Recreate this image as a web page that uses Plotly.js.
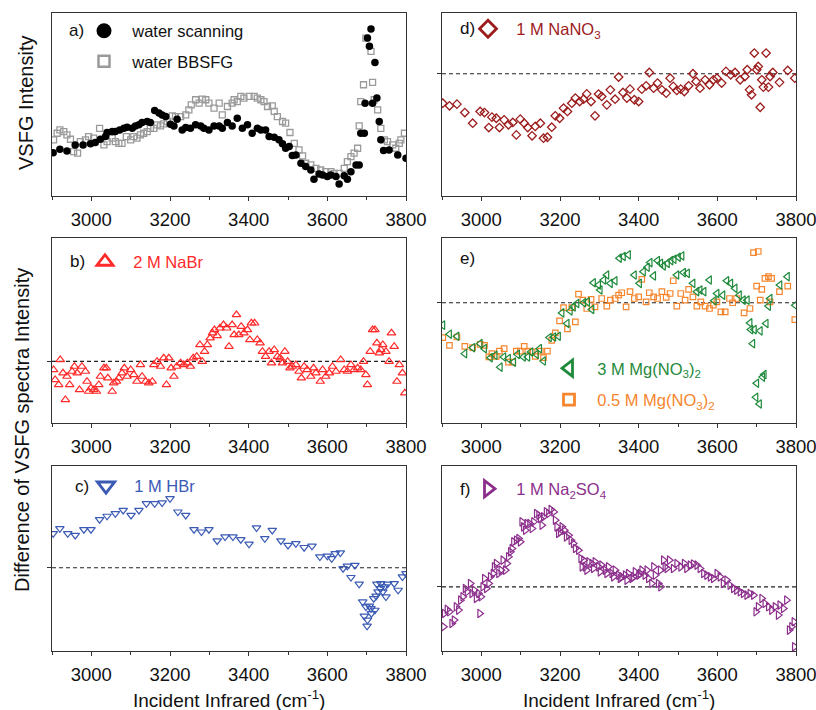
<!DOCTYPE html>
<html><head><meta charset="utf-8">
<script src="https://cdn.plot.ly/plotly-3.0.1.min.js"></script>
<style>html,body{margin:0;padding:0;background:#fff}#chart{width:816px;height:710px}</style>
</head><body><div id="chart"></div>
<script>
// ---------- data (wavenumber in cm^-1, intensity in arbitrary units 0-100) ----------
const aScanX = [2903,2920,2938,2959,2979,2998,3010,3023,3036,3040,3053,3061,3072,3083,3091,3104,3112,3121,3129,3142,3150,3161,3172,3180,3189,3201,3210,3218,3231,3240,3252,3265,3278,3286,3299,3312,3325,3333,3346,3358,3371,3384,3397,3409,3422,3431,3443,3452,3465,3477,3486,3494,3503,3511,3520,3533,3545,3558,3566,3579,3588,3600,3609,3622,3630,3643,3651,3660,3673,3681,3685,3694,3696,3702,3707,3711,3715,3721,3726,3732,3736,3743,3757,3779,3800];
const aScanY = [23.7,25.5,24.6,27.9,27.9,28.5,29.2,31.0,32.5,34.7,35.2,35.2,36.1,37.0,37.6,37.0,38.3,38.9,40.2,40.7,40.2,46.7,45.3,44.3,43.4,39.2,38.3,42.0,36.1,37.4,37.0,38.9,38.3,37.0,36.1,38.3,38.3,37.0,40.2,38.3,42.5,37.0,38.9,34.3,37.0,36.1,36.1,32.5,32.1,30.7,28.5,26.1,27.0,22.1,22.4,17.9,16.1,14.2,9.1,12.0,11.5,10.6,11.5,10.6,6.6,11.0,9.1,13.3,17.0,17.0,34.3,34.3,50.7,86.3,81.8,91.3,50.7,73.0,53.5,40.7,30.7,24.8,25.2,22.4,20.6];

const aBbX = [2904,2913,2920,2930,2938,2947,2955,2965,2972,2985,2993,3006,3021,3032,3040,3053,3061,3070,3078,3089,3100,3108,3116,3125,3133,3142,3150,3159,3167,3176,3184,3193,3206,3214,3227,3240,3248,3254,3265,3274,3282,3291,3299,3312,3325,3333,3346,3358,3363,3371,3380,3388,3401,3414,3422,3431,3439,3448,3460,3465,3473,3486,3494,3505,3516,3528,3537,3545,3558,3571,3583,3596,3609,3617,3630,3643,3651,3660,3668,3677,3681,3685,3692,3698,3711,3715,3719,3728,3736,3745,3753,3766,3774,3783,3787,3796];
const aBbY = [30.7,34.3,36.1,35.2,33.4,31.0,24.3,23.4,29.7,30.7,32.5,31.6,37.0,27.9,29.7,31.6,29.7,28.8,28.8,32.5,30.7,32.5,31.6,33.4,34.3,35.2,37.0,37.0,38.9,38.3,39.4,40.7,43.8,43.4,43.4,44.3,47.1,49.8,52.6,50.7,52.9,52.6,50.7,48.0,50.7,44.3,48.9,50.7,52.6,51.6,54.4,53.5,54.4,54.4,53.5,52.6,51.6,48.9,49.3,46.2,43.4,40.7,39.8,34.7,28.8,25.2,21.9,17.9,17.0,15.1,14.2,13.3,13.3,12.4,12.4,15.1,18.8,21.5,23.4,26.1,38.3,51.6,60.8,86.3,79.0,62.1,52.6,47.1,37.0,30.7,29.7,27.9,26.1,28.8,30.7,34.3];

const bX = [2904,2908,2917,2921,2928,2934,2938,2945,2951,2957,2964,2970,2976,2985,2989,2993,2999,3006,3013,3019,3023,3032,3038,3042,3053,3057,3064,3070,3078,3084,3091,3100,3108,3116,3125,3129,3138,3146,3155,3159,3167,3176,3184,3191,3197,3203,3210,3217,3227,3235,3244,3252,3259,3268,3276,3282,3288,3295,3302,3308,3313,3320,3327,3336,3344,3350,3358,3363,3369,3375,3381,3388,3397,3403,3407,3415,3422,3429,3435,3443,3452,3458,3465,3473,3480,3486,3492,3499,3505,3511,3520,3528,3534,3541,3549,3558,3565,3571,3582,3588,3596,3605,3613,3622,3634,3643,3651,3660,3668,3677,3685,3692,3698,3702,3709,3715,3721,3726,3732,3736,3741,3749,3757,3763,3770,3777,3783,3791,3797];
const bY = [28.8,23.4,20.7,34.2,27.0,12.6,25.2,20.7,27.9,30.6,27.0,18.0,30.6,27.9,22.5,17.1,18.9,18.0,17.1,20.7,25.2,29.7,29.7,24.3,17.1,21.6,22.5,24.3,27.0,29.7,25.2,28.8,26.1,22.5,31.5,25.2,22.5,21.6,22.5,31.5,33.3,30.6,35.1,20.7,35.1,29.7,25.2,30.6,32.4,31.5,32.4,30.6,35.1,36.0,42.3,33.3,38.7,42.3,45.9,48.6,50.4,47.2,51.3,53.1,51.3,41.4,53.1,47.7,58.5,47.7,52.2,48.6,50.4,45.0,54.0,54.0,45.0,43.2,38.7,36.0,38.7,32.4,39.6,36.0,35.1,32.4,38.7,33.3,29.7,30.6,31.5,27.9,24.3,30.6,28.8,25.2,29.7,27.0,22.5,28.8,25.2,27.0,30.6,27.9,34.2,28.8,27.9,31.5,28.8,29.7,28.8,33.3,26.1,20.7,38.7,50.4,50.4,43.2,37.8,39.6,42.3,38.7,33.3,48.6,41.4,22.5,31.5,27.0,16.2];

const cX = [2903,2920,2940,2959,2981,2999,3021,3040,3061,3081,3101,3121,3140,3161,3180,3200,3220,3240,3261,3280,3299,3320,3340,3360,3380,3401,3420,3441,3460,3482,3500,3520,3541,3561,3581,3600,3611,3620,3633,3640,3651,3660,3670,3681,3690,3694,3698,3701,3702,3707,3711,3712,3718,3721,3724,3726,3729,3735,3736,3741,3745,3749,3753,3770,3780,3791,3800];
const cY = [63.5,66.2,63.5,62.6,65.7,65.7,71.1,72.9,74.3,76.1,73.4,76.1,79.7,79.7,80.1,82.4,75.2,73.4,65.7,64.4,65.7,59.6,61.7,61.7,60.3,57.8,66.6,60.8,65.3,59.6,57.2,58.1,56.0,56.7,50.9,51.3,50.0,52.7,53.1,44.6,45.9,39.8,46.4,36.2,26.6,18.9,23.9,13.5,16.7,24.3,23.0,20.3,28.4,22.1,29.7,36.2,32.0,33.8,36.5,32.0,34.7,29.3,36.2,36.5,32.9,40.1,41.9];

const dX = [2902,2919,2938,2958,2978,2997,3008,3019,3027,3038,3046,3058,3069,3080,3089,3099,3109,3118,3129,3137,3150,3158,3168,3179,3188,3199,3209,3219,3230,3239,3250,3260,3268,3279,3289,3298,3306,3319,3328,3340,3349,3360,3370,3378,3389,3400,3408,3419,3427,3438,3448,3459,3470,3480,3488,3497,3507,3516,3527,3538,3546,3556,3569,3580,3590,3599,3611,3622,3634,3645,3658,3670,3676,3682,3687,3694,3700,3704,3709,3713,3717,3724,3730,3734,3741,3758,3779,3797];
const dY = [50.7,49.3,50.2,45.6,39.8,46.2,45.6,37.4,43.1,42.5,37.4,41.6,38.9,40.2,33.4,42.0,39.8,37.4,32.9,38.0,39.8,31.6,32.1,37.6,43.8,42.5,48.0,46.2,50.7,53.5,51.6,52.9,55.8,51.6,43.8,55.7,54.4,49.8,58.0,52.9,65.0,56.6,53.5,58.4,52.6,51.6,58.4,60.2,67.5,58.9,61.7,58.0,56.2,64.4,59.9,57.7,58.4,57.1,60.2,66.8,62.6,58.9,63.5,60.8,63.5,64.4,61.7,68.1,66.2,67.5,63.5,65.3,69.0,58.0,55.3,78.1,69.0,70.8,48.5,63.5,59.5,78.1,59.5,65.3,67.5,62.1,68.6,64.4];

const eMg3X = [2902,2919,2938,2958,2978,2997,3008,3023,3035,3048,3057,3069,3082,3092,3107,3118,3126,3140,3148,3158,3173,3184,3196,3205,3218,3226,3234,3243,3260,3270,3281,3285,3298,3302,3311,3319,3328,3340,3351,3361,3374,3389,3402,3412,3422,3429,3438,3448,3456,3463,3473,3482,3490,3501,3510,3497,3514,3524,3538,3548,3556,3566,3580,3592,3599,3614,3624,3634,3645,3656,3666,3676,3683,3685,3690,3694,3698,3700,3707,3709,3715,3719,3724,3730,3734,3759,3778,3798];
const eMg3Y = [52.9,48.0,46.9,37.5,40.7,42.9,40.2,35.3,36.6,30.2,35.7,34.8,32.9,37.1,35.7,35.7,38.4,37.1,40.2,33.5,46.2,46.5,46.9,59.5,53.8,60.6,62.8,64.6,65.0,65.5,61.4,75.8,74.6,71.9,77.3,80.0,75.5,76.9,89.1,90.0,90.9,80.0,75.5,81.8,84.2,86.7,79.5,87.8,86.3,84.9,86.3,87.8,88.5,89.6,90.3,80.0,81.3,80.9,75.5,71.0,71.9,71.0,77.3,66.1,70.0,69.1,76.9,75.5,72.8,69.1,66.4,66.4,54.1,50.5,42.9,50.5,13.9,21.5,10.3,49.8,24.8,26.2,53.8,63.2,67.3,74.6,79.1,63.7];

const eMg05X = [2902,2919,2938,2958,2978,2997,3008,3019,3027,3038,3046,3058,3069,3080,3089,3099,3109,3118,3129,3137,3150,3158,3168,3179,3188,3199,3209,3219,3230,3239,3247,3258,3268,3279,3289,3306,3319,3328,3340,3349,3357,3368,3378,3389,3400,3408,3419,3427,3438,3448,3459,3470,3480,3488,3497,3507,3518,3527,3538,3548,3558,3569,3580,3590,3599,3609,3620,3631,3639,3649,3668,3683,3692,3704,3700,3713,3709,3721,3730,3738,3734,3758,3779,3797];
const eMg05Y = [46.2,42.0,46.5,41.4,40.7,42.5,42.0,35.7,37.5,36.0,38.9,40.2,32.9,32.9,38.9,38.9,41.4,38.9,38.4,36.0,38.9,35.3,38.9,44.7,48.7,55.2,62.4,50.9,62.4,54.7,69.7,66.4,61.9,66.8,62.8,67.3,63.2,66.4,67.3,69.1,70.4,62.8,71.0,67.3,68.2,77.6,65.5,70.4,68.2,67.3,71.0,67.9,70.0,76.9,63.2,70.0,66.4,72.2,68.2,63.2,65.5,63.2,61.9,63.7,65.5,60.1,60.1,67.3,65.0,67.3,59.5,61.9,92.1,92.7,74.0,72.2,66.4,78.2,79.1,78.2,65.5,71.0,74.0,55.9];

const fX = [2904,2906,2913,2919,2925,2931,2936,2942,2947,2953,2959,2964,2972,2976,2982,2987,2993,2996,2999,3004,3008,3013,3019,3023,3030,3033,3038,3044,3050,3055,3061,3065,3069,3074,3078,3082,3089,3095,3099,3103,3107,3112,3116,3123,3129,3133,3140,3146,3150,3154,3158,3165,3171,3177,3184,3188,3192,3196,3201,3205,3211,3216,3222,3228,3234,3239,3247,3253,3260,3264,3273,3281,3289,3298,3306,3315,3323,3332,3340,3349,3357,3366,3374,3383,3391,3400,3408,3416,3425,3433,3442,3450,3456,3463,3472,3478,3488,3497,3507,3516,3522,3531,3539,3548,3556,3565,3573,3582,3590,3599,3607,3615,3624,3632,3641,3649,3658,3666,3675,3683,3692,3698,3704,3713,3721,3730,3738,3747,3755,3759,3768,3776,3783,3789,3795,3796,3256,3268,3285,3302,3319,3336,3353,3370,3387,3404,3421,3438,3455,3467];
const fY = [13.1,20.3,22.5,21.2,14.9,16.7,23.9,22.1,27.5,29.3,33.8,32.0,36.5,31.1,32.9,28.4,31.1,20.3,29.3,34.7,39.2,33.8,36.5,40.1,41.9,45.5,47.3,41.9,43.7,49.1,43.7,47.3,50.9,53.6,55.4,59.0,59.9,60.8,59.0,69.8,67.1,65.3,68.9,68.9,66.2,69.8,74.3,73.4,71.6,68.0,72.5,75.2,74.3,76.5,75.2,70.7,67.1,63.5,64.4,67.1,65.3,61.7,62.6,59.9,58.1,55.4,54.5,50.0,49.1,45.5,48.2,47.3,48.2,45.5,46.4,43.7,45.5,41.9,43.7,41.0,40.1,41.0,41.9,39.2,42.8,41.0,43.7,41.0,39.2,36.5,41.0,36.5,34.7,49.1,44.6,49.1,44.6,47.3,45.5,47.3,44.6,46.4,47.0,46.4,44.6,41.9,41.0,40.1,39.2,41.9,40.1,36.5,38.3,35.6,33.8,32.9,32.0,31.1,30.2,31.1,30.2,21.2,23.9,28.4,25.7,23.9,22.1,23.9,19.4,24.8,23.0,27.5,11.3,13.1,15.8,2.3,45.5,43.7,44.6,42.8,41.9,40.1,39.2,38.3,40.1,41.9,43.7,45.5,43.7,45.5];

// zero-difference reference levels (dashed lines)
const baseB = 33.3, baseC = 45.0, baseD = 66.8, baseE = 65.0, baseF = 34.7;

// labels
const seriesNames = {
  scan: 'water scanning', bb: 'water BBSFG', b: '2 M NaBr', c: '1 M HBr',
  d: '1 M NaNO<sub>3</sub>', e3: '3 M Mg(NO<sub>3</sub>)<sub>2</sub>', e05: '0.5 M Mg(NO<sub>3</sub>)<sub>2</sub>',
  f: '1 M Na<sub>2</sub>SO<sub>4</sub>'
};
const panelLetters = ['a)','b)','c)','d)','e)','f)'];
const xTitle = 'Incident Infrared (cm<sup>-1</sup>)';
const yTitleTop = 'VSFG Intensity';
const yTitleDiff = 'Difference of VSFG spectra Intensity';

// ---------- styling ----------
const FONT = 'Liberation Sans, Arial, Helvetica, sans-serif';
const AX = '#333';
const W = 816, H = 710;
const COL = {scan:'#000000', bb:'#9a9a9a', b:'#ff2a2a', c:'#3a5ab4', d:'#9c1c1c', e3:'#1f8a3b', e05:'#f5862e', f:'#8c2f8c'};
const px = v => v / W, py = v => 1 - v / H;
const SP = '\u2002';

const colL = [px(52), px(406)], colR = [px(442), px(796)];
const row1 = [py(196), py(13)], row2 = [py(423), py(238)], row3 = [py(651), py(466)];

function xAxis(dom, anchor) {
  return {domain: dom, anchor: anchor, range: [2900, 3800], tick0: 3000, dtick: 200,
    ticks: 'outside', ticklen: 4, tickwidth: 1, tickcolor: AX,
    showline: true, linecolor: AX, linewidth: 1, mirror: true, showgrid: false, zeroline: false,
    tickfont: {family: FONT, size: 18.5, color: '#111'}, ticklabelstandoff: 3,
    ticklabeloverflow: 'allow',
    minor: {dtick: 100, tick0: 2900, ticks: 'outside', ticklen: 3, tickcolor: AX, showgrid: false},
    fixedrange: true};
}
function yAxis(dom, anchor, base) {
  const o = {domain: dom, anchor: anchor, range: [0, 100], showticklabels: false,
    showline: true, linecolor: AX, linewidth: 1, mirror: true, showgrid: false, zeroline: false, fixedrange: true};
  if (base != null) { o.tickvals = [base]; o.ticks = 'outside'; o.ticklen = 4; o.tickcolor = AX; }
  else { o.ticks = ''; }
  return o;
}

function pts(x, y, xa, ya, sym, color, size, lw) {
  return {type: 'scatter', mode: 'markers', x: x, y: y, xaxis: xa, yaxis: ya, showlegend: false,
    hoverinfo: 'skip',
    marker: {symbol: sym, size: size, color: color, line: {color: color, width: lw}}};
}
function key(name, legend, group, sym, color, size, lw, xa, ya) {
  return {type: 'scatter', mode: 'markers', x: [null], y: [null], xaxis: xa, yaxis: ya,
    name: SP + name, legend: legend, legendgroup: group, showlegend: true,
    marker: {symbol: sym, size: size, color: color, line: {color: color, width: lw}}};
}

const data = [
  pts(aBbX, aBbY, 'x', 'y', 'square-open', COL.bb, 6, 1.3),
  pts(aScanX, aScanY, 'x', 'y', 'circle', COL.scan, 7.5, 0),
  pts(dX, dY, 'x2', 'y2', 'diamond-open', COL.d, 6.5, 1.3),
  pts(bX, bY, 'x3', 'y3', 'triangle-up-open', COL.b, 7.5, 1.2),
  pts(eMg05X, eMg05Y, 'x4', 'y4', 'square-open', COL.e05, 5.5, 1.2),
  pts(eMg3X, eMg3Y, 'x4', 'y4', 'triangle-left-open', COL.e3, 7.5, 1.2),
  pts(cX, cY, 'x5', 'y5', 'triangle-down-open', COL.c, 7.5, 1.2),
  pts(fX, fY, 'x6', 'y6', 'triangle-right-open', COL.f, 7.5, 1.2),
  key(seriesNames.scan, 'legend', 'g1', 'circle', COL.scan, 15, 0, 'x', 'y'),
  key(seriesNames.bb, 'legend', 'g2', 'square-open', COL.bb, 11, 2.5, 'x', 'y'),
  key(seriesNames.d, 'legend2', 'g1', 'diamond-open', COL.d, 13, 2.8, 'x2', 'y2'),
  key(seriesNames.b, 'legend3', 'g1', 'triangle-up-open', COL.b, 14, 2.8, 'x3', 'y3'),
  key('<span style="color:' + COL.e3 + '">' + seriesNames.e3 + '</span>', 'legend4', 'g1', 'triangle-left-open', COL.e3, 14, 2.8, 'x4', 'y4'),
  key('<span style="color:' + COL.e05 + '">' + seriesNames.e05 + '</span>', 'legend4', 'g2', 'square-open', COL.e05, 11, 2.8, 'x4', 'y4'),
  key(seriesNames.c, 'legend5', 'g1', 'triangle-down-open', COL.c, 15, 2.8, 'x5', 'y5'),
  key(seriesNames.f, 'legend6', 'g1', 'triangle-right-open', COL.f, 14, 2.8, 'x6', 'y6')
];

function leg(xpx, ypx, color, gap) {
  return {x: px(xpx), y: py(ypx), xanchor: 'left', yanchor: 'middle', bgcolor: 'rgba(0,0,0,0)',
    borderwidth: 0, font: {family: FONT, size: 16.5, color: color}, itemsizing: 'trace',
    traceorder: 'grouped', tracegroupgap: gap, itemclick: false, itemdoubleclick: false};
}

function dash(xa, ya, v) {
  return {type: 'line', xref: xa + ' domain', yref: ya, x0: 0, x1: 1, y0: v, y1: v,
    layer: 'below', line: {color: '#222', width: 1.2, dash: '4px,3px'}};
}

const labelPos = [[67, 31], [68, 262], [73, 486], [458, 29], [458, 259], [458, 489]];
const annotations = panelLetters.map((t, i) => ({
  text: t, xref: 'paper', yref: 'paper', x: px(labelPos[i][0]), y: py(labelPos[i][1]),
  xanchor: 'left', yanchor: 'middle', showarrow: false, font: {family: FONT, size: 17, color: '#111'}
}));
annotations.push(
  {text: yTitleTop, xref: 'paper', yref: 'paper', x: px(26), y: py(103), textangle: -90,
   xanchor: 'center', yanchor: 'middle', showarrow: false, font: {family: FONT, size: 20, color: '#111'}},
  {text: yTitleDiff, xref: 'paper', yref: 'paper', x: px(22), y: py(430), textangle: -90,
   xanchor: 'center', yanchor: 'middle', showarrow: false, font: {family: FONT, size: 20, color: '#111'}},
  {text: xTitle, xref: 'paper', yref: 'paper', x: px(229), y: py(699),
   xanchor: 'center', yanchor: 'middle', showarrow: false, font: {family: FONT, size: 19, color: '#111'}},
  {text: xTitle, xref: 'paper', yref: 'paper', x: px(619), y: py(699),
   xanchor: 'center', yanchor: 'middle', showarrow: false, font: {family: FONT, size: 19, color: '#111'}}
);

const layout = {
  width: W, height: H, margin: {l: 0, r: 0, t: 0, b: 0},
  paper_bgcolor: '#fff', plot_bgcolor: '#fff',
  font: {family: FONT, color: '#111'},
  xaxis: xAxis(colL, 'y'), yaxis: yAxis(row1, 'x', null),
  xaxis2: xAxis(colR, 'y2'), yaxis2: yAxis(row1, 'x2', baseD),
  xaxis3: xAxis(colL, 'y3'), yaxis3: yAxis(row2, 'x3', baseB),
  xaxis4: xAxis(colR, 'y4'), yaxis4: yAxis(row2, 'x4', baseE),
  xaxis5: xAxis(colL, 'y5'), yaxis5: yAxis(row3, 'x5', baseC),
  xaxis6: xAxis(colR, 'y6'), yaxis6: yAxis(row3, 'x6', baseF),
  legend: leg(84, 46, '#111', 6),
  legend2: leg(468, 29, COL.d, 0),
  legend3: leg(85, 262, COL.b, 0),
  legend4: leg(549, 384, COL.e3, 7),
  legend5: leg(86, 486, COL.c, 0),
  legend6: leg(468, 489, COL.f, 0),
  shapes: [dash('x2', 'y2', baseD), dash('x3', 'y3', baseB), dash('x4', 'y4', baseE),
           dash('x5', 'y5', baseC), dash('x6', 'y6', baseF)],
  annotations: annotations
};

Plotly.newPlot('chart', data, layout, {displayModeBar: false, staticPlot: true});
</script></body></html>
